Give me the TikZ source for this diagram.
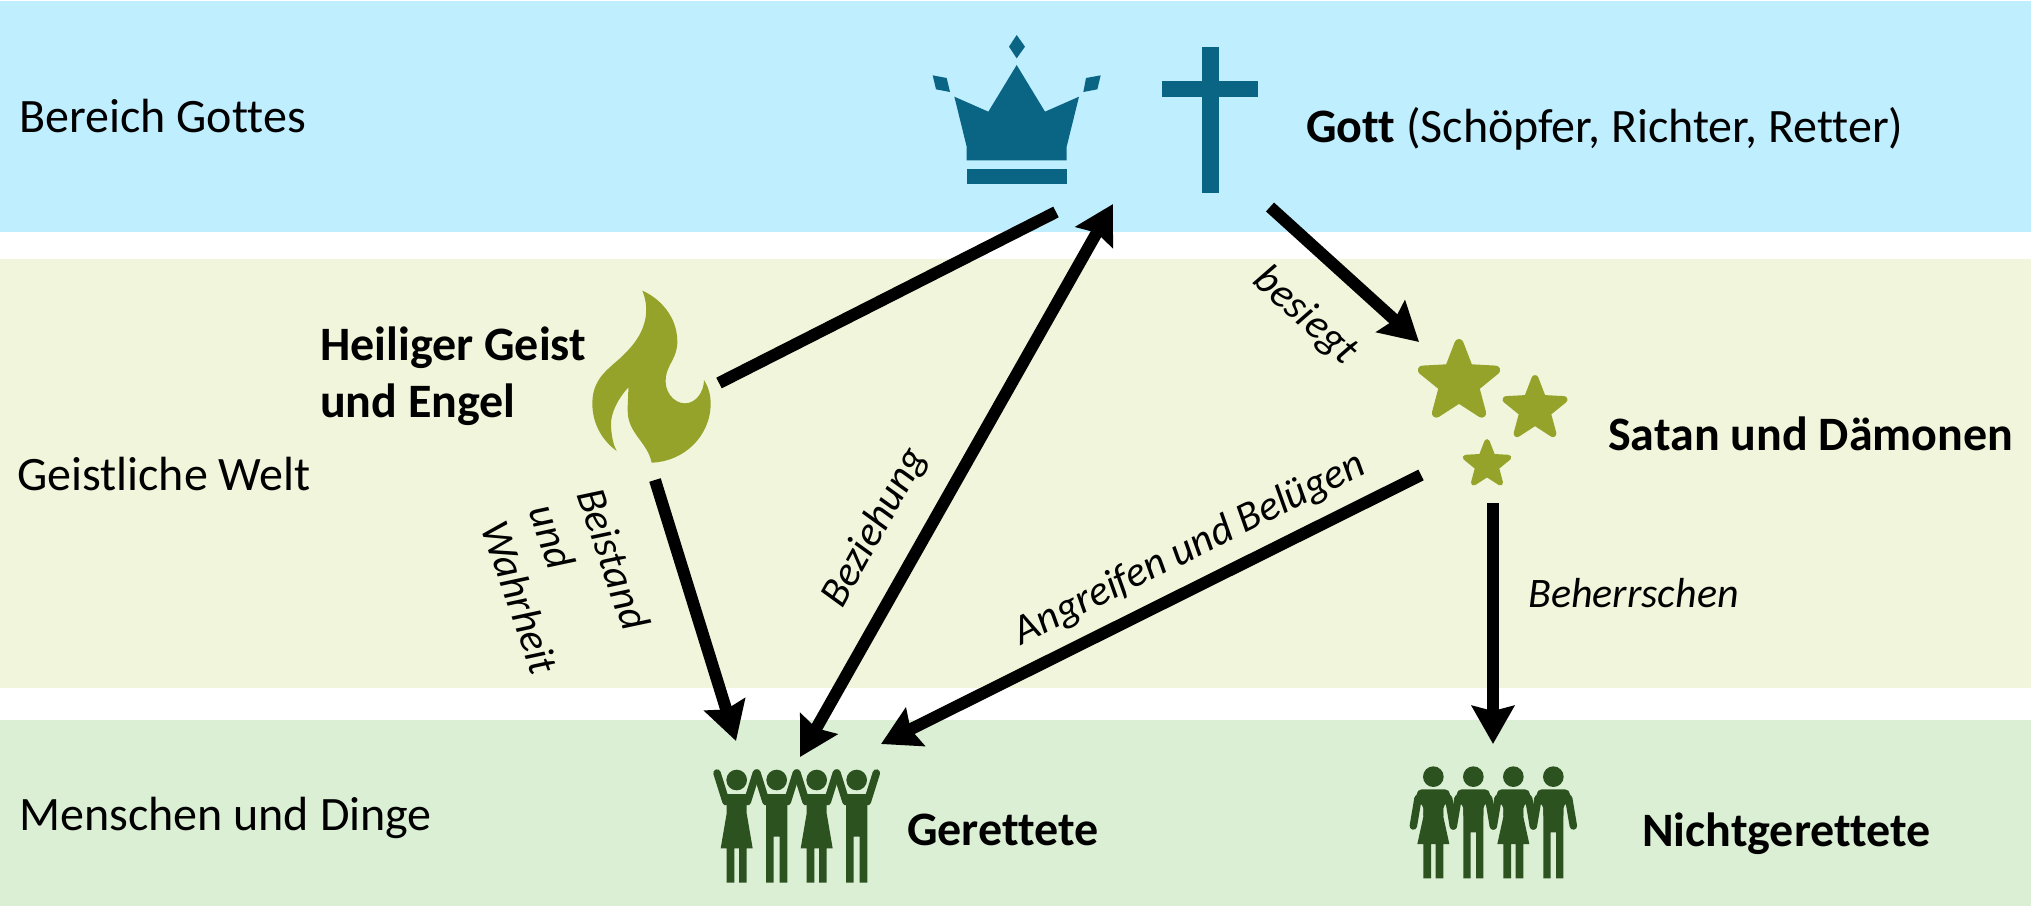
\documentclass[tikz,border=0pt]{standalone}
\usepackage{fontspec}
\setmainfont{Carlito}[Ligatures=NoCommon]
\usetikzlibrary{arrows.meta}
\definecolor{bandblue}{HTML}{BFEEFE}
\definecolor{bandolive}{HTML}{F1F5DB}
\definecolor{bandgreen}{HTML}{DBEFD5}
\definecolor{iconblue}{HTML}{0A6584}
\definecolor{iconolive}{HTML}{95A32A}
\definecolor{icongreen}{HTML}{2C5220}
\tikzset{
  conn/.style={line width=12pt,draw=black},
  bighead/.tip={Stealth[length=38pt,width=42pt,inset=5pt]},
  arrowconn/.style={conn,-bighead},
  bothconn/.style={conn,bighead-bighead},
  lab/.style={font=\fontsize{48}{57}\selectfont,inner sep=0pt,text=black},
  bold/.style={lab,font=\fontsize{48}{56.5}\selectfont\bfseries,align=left},
  ital/.style={lab,font=\fontsize{42}{50}\selectfont\itshape,align=center},
  zoomed/.style={x=0.33333pt,y=-0.33333pt},
}
% five-pointed star with round tips: #1 centre, #2 outer radius, #3 inner radius, #4 stroke
\newcommand{\rstar}[4]{
  \begin{scope}[shift={#1}]
  \filldraw[iconolive,line width=#4,line join=round] (-90:#2) -- (-54:#3) -- (-18:#2) -- (18:#3) -- (54:#2) -- (90:#3) -- (126:#2) -- (162:#3) -- (198:#2) -- (234:#3) -- cycle;
  \end{scope}
}
\newcommand{\uparms}[1]{
  \draw[line width=7.5pt,line cap=round] ({#1-32},305) -- ({#1-59},219);
  \draw[line width=7.5pt,line cap=round] ({#1+32},305) -- ({#1+59},219);
}
\newcommand{\upman}[1]{
  \fill ({#1},240) circle (31);
  \fill ({#1-32},282) -- ({#1+32},282) -- ({#1+32},548) -- ({#1+9},548) -- ({#1+9},410) -- ({#1-9},410) -- ({#1-9},548) -- ({#1-32},548) -- cycle;
  \uparms{#1}
}
\newcommand{\upwoman}[1]{
  \fill ({#1},240) circle (31);
  \fill ({#1-30},282) -- ({#1+30},282) -- ({#1+30},340) -- ({#1+48},445) -- ({#1+30},445) -- ({#1+30},548) -- ({#1+7},548) -- ({#1+7},445) -- ({#1-7},445) -- ({#1-7},548) -- ({#1-30},548) -- ({#1-30},445) -- ({#1-48},445) -- ({#1-30},340) -- cycle;
  \uparms{#1}
}
\newcommand{\downtop}[1]{
  \fill ({#1},170) circle (31);
  \fill[rounded corners=5pt] ({#1-50},208) -- ({#1+50},208) -- ({#1+50},250) -- ({#1+30},250) -- ({#1+30},300) -- ({#1-30},300) -- ({#1-30},250) -- ({#1-50},250) -- cycle;
  \draw[line width=7.5pt,line cap=round] ({#1-46},235) -- ({#1-60},318);
  \draw[line width=7.5pt,line cap=round] ({#1+46},235) -- ({#1+60},318);
}
\newcommand{\downman}[1]{
  \downtop{#1}
  \fill ({#1-30},240) -- ({#1+30},240) -- ({#1+30},475) -- ({#1+8},475) -- ({#1+8},337) -- ({#1-8},337) -- ({#1-8},475) -- ({#1-30},475) -- cycle;
}
\newcommand{\downwoman}[1]{
  \downtop{#1}
  \fill ({#1-28},240) -- ({#1+28},240) -- ({#1+30},290) -- ({#1+48},372) -- ({#1+30},372) -- ({#1+30},475) -- ({#1+7},475) -- ({#1+7},372) -- ({#1-7},372) -- ({#1-7},475) -- ({#1-30},475) -- ({#1-30},372) -- ({#1-48},372) -- ({#1-30},290) -- cycle;
}
\begin{document}
\begin{tikzpicture}[x=1pt,y=-1pt]
\useasboundingbox (0,0) rectangle (2031,906);
\fill[white] (0,0) rectangle (2031,906);
% bands
\fill[bandblue] (0,1) rectangle (2031,232);
\fill[bandolive] (0,259) rectangle (2031,688);
\fill[bandgreen] (0,720) rectangle (2031,906);
% crown and cross
\begin{scope}[shift={(900,0)},zoomed,iconblue]
  \fill (350,105) -- (375,140) -- (350,175) -- (327,140) -- cycle;
  \fill (98,226) -- (140,234) -- (150,276) -- (108,268) -- cycle;
  \fill (602,226) -- (558,234) -- (550,276) -- (592,268) -- cycle;
  \fill (350,195) -- (435,335) -- (537,290) -- (500,440) -- (500,481) -- (200,481) -- (200,440) -- (163,290) -- (265,335) -- cycle;
  \fill (200,506) rectangle (500,553);
  \fill (906,140) rectangle (957,578);
  \fill (787,243) rectangle (1075,290);
\end{scope}
% flame
\begin{scope}[shift={(560,270)},zoomed]
  \fill[iconolive] (247,62) .. controls (300,85) and (352,140) .. (352,215)
    .. controls (352,262) and (325,280) .. (318,318)
    .. controls (310,362) and (340,400) .. (375,400)
    .. controls (408,400) and (432,365) .. (432,330)
    .. controls (445,350) and (452,375) .. (452,400)
    .. controls (452,500) and (370,575) .. (275,578)
    .. controls (262,515) and (202,490) .. (203,420)
    .. controls (203,395) and (205,375) .. (205,352)
    .. controls (175,385) and (150,430) .. (153,470)
    .. controls (155,500) and (160,525) .. (170,543)
    .. controls (125,510) and (97,460) .. (97,400)
    .. controls (97,315) and (160,290) .. (200,245)
    .. controls (250,195) and (275,130) .. (247,62) -- cycle;
\end{scope}
% stars
\rstar{(1459,382)}{38.5}{16.5}{9pt}
\rstar{(1535,409)}{30.4}{13}{7pt}
\rstar{(1487,464.5)}{22.8}{9.8}{5.3pt}
% people
\begin{scope}[shift={(690,700)},zoomed,icongreen,draw=icongreen,fill=icongreen]
  \upwoman{140}\upman{260}\upwoman{380}\upman{500}
\end{scope}
\begin{scope}[shift={(1390,720)},zoomed,icongreen,draw=icongreen,fill=icongreen]
  \downwoman{130}\downman{250}\downwoman{370}\downman{490}
\end{scope}
% labels
\node[lab,anchor=mid west] (bereich) at (19,130) {Bereich Gottes};
\node[lab,anchor=mid west] (welt) at (17,488) {Geistliche Welt};
\node[lab,anchor=mid west] (menschen) at (19,828) {Menschen und Dinge};
\node[lab,anchor=mid west] (gott) at (1306,140) {\textbf{Gott} (Schöpfer, Richter, Retter)};
\node[bold,anchor=west] (geist) at (320,376) {Heiliger Geist\\und Engel};
\node[bold,anchor=mid west] (satan) at (1608,448) {Satan und Dämonen};
\node[bold,anchor=mid west] (gerettete) at (907,843) {Gerettete};
\node[bold,anchor=mid west] (nicht) at (1642,844) {Nichtgerettete};
\node[ital,rotate=-42] (besiegt) at (1305,316) {besiegt};
\node[ital,rotate=-71,align=left,font=\fontsize{42}{50.5}\selectfont\itshape] (beistand) at (568,581) {Beistand\\und\\Wahrheit};
\node[ital,rotate=61] (beziehung) at (875,528) {Beziehung};
\node[ital,rotate=26.5] (angreifen) at (1190,549) {Angreifen und Belügen};
\node[ital,anchor=mid west] (beherrschen) at (1528,605) {Beherrschen};
% connector ends
\coordinate (spiritR) at (719,383);
\coordinate (crownL) at (1056,212);
\coordinate (crownT) at (1113,204);
\coordinate (savedT) at (800,757);
\coordinate (spiritB) at (655,480);
\coordinate (savedL) at (736,741);
\coordinate (crossB) at (1270,207);
\coordinate (starTL) at (1419,342);
\coordinate (starBL) at (1421,475);
\coordinate (savedR) at (881,744);
\coordinate (starB) at (1493,503);
\coordinate (lostT) at (1493,744);
\draw[conn] (spiritR) -- (crownL);
\draw[bothconn] (savedT) -- (crownT);
\draw[arrowconn] (spiritB) -- (savedL);
\draw[arrowconn] (crossB) -- (starTL);
\draw[arrowconn] (starBL) -- (savedR);
\draw[arrowconn] (starB) -- (lostT);
\end{tikzpicture}
\end{document}
